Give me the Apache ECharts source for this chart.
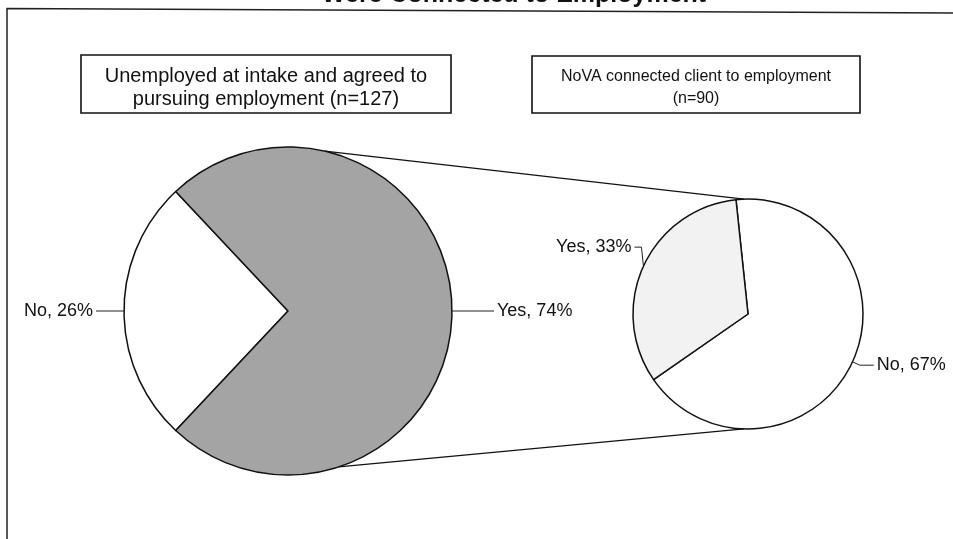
<!DOCTYPE html>
<html>
<head>
<meta charset="utf-8">
<script src="https://cdn.jsdelivr.net/npm/echarts@6/dist/echarts.min.js"></script>
<style>
  html, body { margin: 0; padding: 0; background: #ffffff; }
  #chart { width: 953px; height: 539px; }
</style>
</head>
<body>
<div id="chart"></div>
<script>
// ---- Data ----
const titleText = 'Were Connected to Employment';
const intakeCategories = ['No', 'Yes'];
const intakeValues = [26, 74];
const connectedCategories = ['No', 'Yes'];
const connectedValues = [67, 33];
const intakeCaption = ['Unemployed at intake and agreed to', 'pursuing employment (n=127)'];
const connectedCaption = ['NoVA connected client to employment', '(n=90)'];

// ---- Layout & style ----
const FONT = '"Liberation Sans", Arial, Helvetica, sans-serif';
const INK = '#111111';
const mainPie = { cx: 288, cy: 311, r: 164 };
const subPie = { cx: 748, cy: 314, r: 115 };
const intakeColors = ['#ffffff', '#a4a4a4'];
const connectedColors = ['#ffffff', '#f2f2f2'];
const intakeLineLen = [[10, 18], [16, 26]];
const connectedLineLen = [[8, 14], [16, 6]];

const sum = arr => arr.reduce((a, b) => a + b, 0);

// "No" wedge of the main pie is centred on the left side
const mainStart = 180 + intakeValues[0] / sum(intakeValues) * 180;
// Secondary pie: boundary between the slices sits just left of 12 o'clock
const subStart = 96;

function buildData(names, values, colors, lens) {
  return names.map((n, i) => ({
    name: n,
    value: values[i],
    itemStyle: { color: colors[i] },
    labelLine: { length: lens[i][0], length2: lens[i][1] }
  }));
}

const pieCommon = {
  type: 'pie',
  clockwise: true,
  avoidLabelOverlap: false,
  animation: false,
  silent: true,
  itemStyle: { borderColor: INK, borderWidth: 1.5 },
  label: {
    show: true,
    position: 'outside',
    formatter: '{b}, {c}%',
    fontFamily: FONT,
    fontSize: 18,
    color: INK,
    distanceToLabelLine: 3
  },
  labelLine: { show: true, smooth: false, lineStyle: { color: '#222', width: 1 } },
  emphasis: { disabled: true }
};

function pt(p, deg) {
  const a = deg * Math.PI / 180;
  return [p.cx + p.r * Math.cos(a), p.cy - p.r * Math.sin(a)];
}

const upperA = pt(mainPie, 77), upperB = pt(subPie, 92);
const lowerA = pt(mainPie, -72), lowerB = pt(subPie, -92);

function captionBox(x, y, w, h, lines, fontSize, lineGap, firstMid) {
  const children = [{
    type: 'rect',
    shape: { x: x, y: y, width: w, height: h },
    style: { fill: '#ffffff', stroke: INK, lineWidth: 1.6 }
  }];
  lines.forEach((t, i) => {
    children.push({
      type: 'text',
      style: {
        text: t, x: x + w / 2, y: firstMid + i * lineGap,
        align: 'center', verticalAlign: 'middle',
        font: fontSize + 'px ' + FONT, fill: INK
      }
    });
  });
  return { type: 'group', silent: true, children: children };
}

// The "Yes" label of the secondary pie sits on an elbow leader: up from the rim, then a short tick left
function subLabelLayout(params) {
  if (params.seriesIndex !== 1 || params.dataIndex !== 1 || !params.labelLinePoints) return {};
  const p0 = params.labelLinePoints[0];
  const bendY = p0[1] - 19;
  return {
    x: p0[0] - 12,
    y: bendY,
    align: 'right',
    verticalAlign: 'middle',
    labelLinePoints: [[p0[0], p0[1]], [p0[0] - 2, bendY], [p0[0] - 9, bendY]]
  };
}

const chart = echarts.init(document.getElementById('chart'), null, { renderer: 'canvas' });
chart.setOption({
  backgroundColor: '#ffffff',
  animation: false,
  series: [
    Object.assign({}, pieCommon, {
      name: 'Intake',
      center: [mainPie.cx, mainPie.cy],
      radius: [0, mainPie.r],
      startAngle: mainStart,
      data: buildData(intakeCategories, intakeValues, intakeColors, intakeLineLen)
    }),
    Object.assign({}, pieCommon, {
      name: 'Connected',
      center: [subPie.cx, subPie.cy],
      radius: [0, subPie.r],
      startAngle: subStart,
      labelLayout: subLabelLayout,
      data: buildData(connectedCategories, connectedValues, connectedColors, connectedLineLen)
    })
  ],
  graphic: [
    // outer frame
    {
      type: 'polyline', silent: true,
      shape: { points: [[7, 545], [7, 8.5], [960, 13]] },
      style: { stroke: '#222', lineWidth: 1.5, fill: null }
    },
    {
      type: 'text', silent: true,
      style: {
        text: titleText, x: 514, y: -5, align: 'center', verticalAlign: 'middle',
        font: 'bold 25px ' + FONT, fill: INK
      }
    },
    // connectors between the two pies
    {
      type: 'line', silent: true,
      shape: { x1: upperA[0], y1: upperA[1], x2: upperB[0], y2: upperB[1] },
      style: { stroke: INK, lineWidth: 1.3 }
    },
    {
      type: 'line', silent: true,
      shape: { x1: lowerA[0], y1: lowerA[1], x2: lowerB[0], y2: lowerB[1] },
      style: { stroke: INK, lineWidth: 1.3 }
    },
    captionBox(81, 55, 370, 58, intakeCaption, 20, 23, 76),
    captionBox(532, 56, 328, 57, connectedCaption, 16, 22, 77)
  ]
});
</script>
</body>
</html>
